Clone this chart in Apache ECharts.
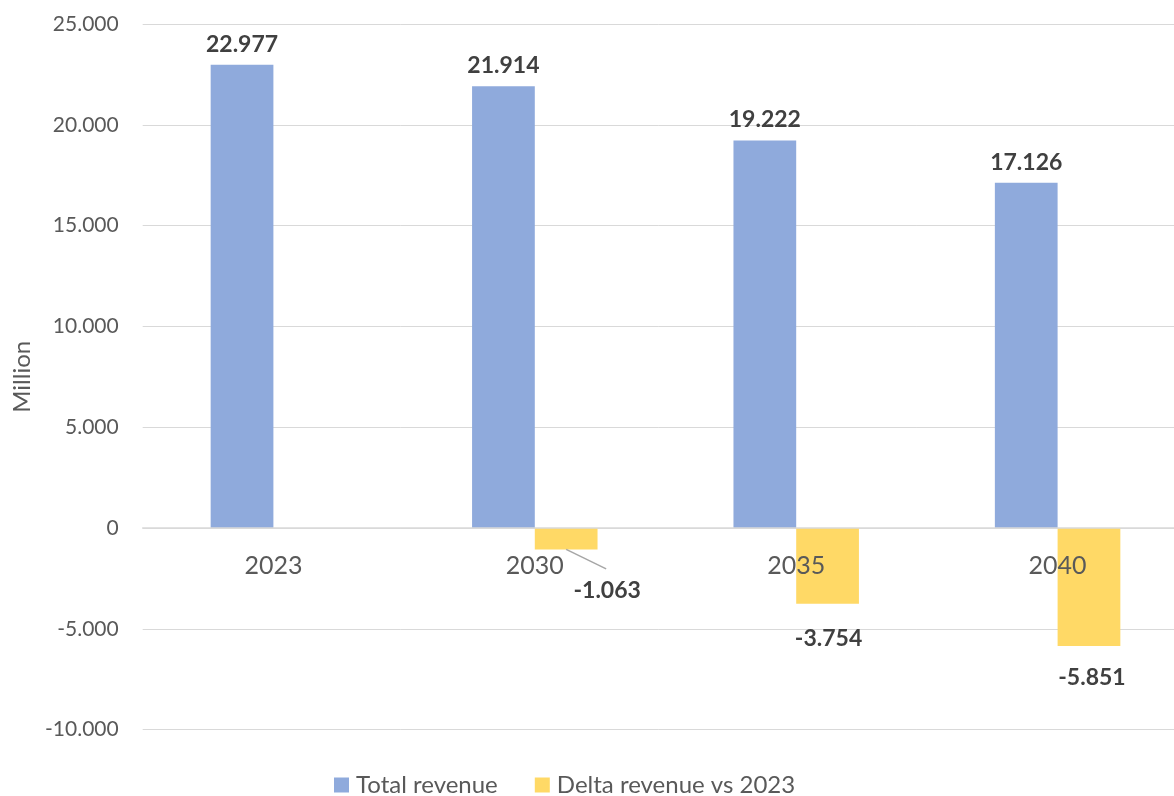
<!DOCTYPE html>
<html>
<head>
<meta charset="utf-8">
<title>Total revenue and delta vs 2023</title>
<script src="https://cdn.jsdelivr.net/npm/echarts@6/dist/echarts.min.js"></script>
<style>
  html, body { margin: 0; padding: 0; background: #ffffff; }
  #chart { width: 1174px; height: 796px; }
</style>
</head>
<body>
<div id="chart"></div>
<script>
// Years on the category axis
const years = ['2023', '2030', '2035', '2040'];
// Total revenue per year (units)
const totalRevenue = [22977, 21914, 19222, 17126];
// Change in revenue compared with 2023 (no bar for 2023 itself)
const deltaRevenue = [null, -1063, -3754, -5851];
// Value axis range and step
const yMin = -10000;
const yMax = 25000;
const yStep = 5000;

const FONT = 'Lato, "Noto Sans", sans-serif';
const BLUE = '#8faadc';
const YELLOW = '#ffd966';
const BAR_FRACTION = 0.24;

const GRID_TOP = 24;
const GRID_HEIGHT = 705.6;
// Category axis sits on the zero line, labels included
const xAxisOffset = -GRID_HEIGHT * (0 - yMin) / (yMax - yMin);

// 25000 -> "25.000", -1063 -> "-1.063"
function fmt(v) {
  const s = String(Math.abs(Math.round(v))).replace(/\B(?=(\d{3})+(?!\d))/g, '.');
  return (v < 0 ? '-' : '') + s;
}

// Hand-placed delta labels, nudged away from the bars
const deltaLabelOffsets = [null, [41, 30], [1, 23], [3, 20]];

const deltaData = deltaRevenue.map(function (v, i) {
  if (v == null) return null;
  return {
    value: v,
    label: { offset: deltaLabelOffsets[i] }
  };
});

const chart = echarts.init(document.getElementById('chart'), null, { renderer: 'canvas' });

chart.setOption({
  animation: false,
  backgroundColor: '#ffffff',
  textStyle: { fontFamily: FONT },
  grid: {
    left: 142.7,
    top: GRID_TOP,
    width: 1045.6,
    height: GRID_HEIGHT,
    containLabel: false,
    outerBoundsMode: 'none'
  },
  legend: {
    left: 334,
    top: 773,
    padding: 0,
    itemWidth: 15,
    itemHeight: 15,
    itemGap: 37,
    icon: 'rect',
    textStyle: { fontFamily: FONT, fontSize: 24, color: '#595959', padding: [0, 0, 0, 2] },
    data: ['Total revenue', 'Delta revenue vs 2023']
  },
  xAxis: {
    type: 'category',
    data: years,
    position: 'bottom',
    offset: xAxisOffset,
    z: 10,
    axisLine: { show: true, onZero: false, lineStyle: { color: '#d9d9d9', width: 1.5 } },
    axisTick: { show: false },
    axisLabel: { fontFamily: FONT, fontSize: 25, color: '#595959', margin: 25 },
    splitLine: { show: false }
  },
  yAxis: {
    type: 'value',
    min: yMin,
    max: yMax,
    interval: yStep,
    name: 'Million',
    nameLocation: 'middle',
    nameRotate: 90,
    nameGap: 108,
    nameTextStyle: { fontFamily: FONT, fontSize: 24, color: '#595959' },
    axisLine: { show: false },
    axisTick: { show: false },
    axisLabel: {
      fontFamily: FONT, fontSize: 21, color: '#595959', margin: 24,
      formatter: function (v) { return fmt(v); }
    },
    splitLine: { lineStyle: { color: '#d9d9d9', width: 1 } }
  },
  series: [
    {
      name: 'Total revenue',
      type: 'bar',
      data: totalRevenue,
      barWidth: (BAR_FRACTION * 100) + '%',
      barGap: '0%',
      itemStyle: { color: BLUE },
      label: {
        show: true,
        position: 'top',
        distance: 9,
        fontFamily: FONT,
        fontSize: 23,
        fontWeight: 'bold',
        color: '#404040',
        formatter: function (p) { return fmt(p.value); }
      }
    },
    {
      name: 'Delta revenue vs 2023',
      type: 'bar',
      data: deltaData,
      barWidth: (BAR_FRACTION * 100) + '%',
      barGap: '0%',
      itemStyle: { color: YELLOW },
      label: {
        show: true,
        position: 'bottom',
        distance: 0,
        fontFamily: FONT,
        fontSize: 23,
        fontWeight: 'bold',
        color: '#404040',
        formatter: function (p) { return fmt(p.value); }
      }
    },
    {
      // Leader line from the 2030 delta bar to its label
      name: 'leader',
      type: 'custom',
      silent: true,
      z: 5,
      data: [[1, deltaRevenue[1]]],
      renderItem: function (params, api) {
        const band = api.size([1, 0])[0];
        const p = api.coord([api.value(0), api.value(1)]);
        const x0 = p[0] + band * BAR_FRACTION / 2;
        const y0 = p[1];
        return {
          type: 'line',
          shape: { x1: x0, y1: y0, x2: x0 + 40, y2: y0 + 19.5 },
          style: { stroke: '#a6a6a6', lineWidth: 1.5 }
        };
      }
    }
  ]
});
</script>
</body>
</html>
